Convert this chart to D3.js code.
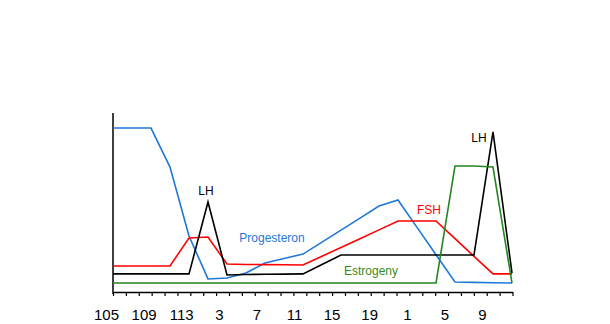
<!DOCTYPE html>
<html>
<head>
<meta charset="utf-8">
<script src="https://cdn.jsdelivr.net/npm/d3@7"></script>
<style>
  html, body { margin: 0; padding: 0; background: #fff; }
  svg { display: block; }
  text { font-family: "Liberation Sans", Arial, sans-serif; }
</style>
</head>
<body>
<svg id="chart" width="610" height="324"></svg>
<script>
// ---- data ----
const points = d3.range(22); // sample index along the cycle
const tickLabels = ["105", "109", "113", "3", "7", "11", "15", "19", "1", "5", "9"];
const tickCount = 31;

const progesteron = [91.6, 91.6, 91.6, 69.8, 31.3, 7.3, 7.8, 10.6, 16.2, 18.7, 21.2,
                     27.9, 34.6, 41.3, 48.0, 51.4, 36.1, 20.8, 5.6, 5.4, 5.2, 5.0];
const fsh = [14.5, 14.5, 14.5, 14.5, 30.2, 30.7, 15.6, 15.4, 15.3, 15.2, 15.1,
             20.0, 24.9, 29.8, 34.7, 39.7, 39.7, 39.7, 29.8, 19.9, 10.1, 10.1];
const lh = [10.1, 10.1, 10.1, 10.1, 10.1, 50.3, 9.5, 9.8, 9.9, 10.0, 10.1,
            15.4, 20.7, 20.7, 20.7, 20.7, 20.7, 20.7, 20.7, 20.7, 89.4, 10.6];
const estrogeny = [5.0, 5.0, 5.0, 5.0, 5.0, 5.0, 5.0, 5.0, 5.0, 5.0, 5.0,
                   5.0, 5.0, 5.0, 5.0, 5.0, 5.0, 5.0, 70.4, 70.4, 69.8, 5.0];

const series = [
  { name: "Progesteron", values: progesteron, color: "#1f78d6" },
  { name: "FSH", values: fsh, color: "#ff0000" },
  { name: "LH", values: lh, color: "#000000" },
  { name: "Estrogeny", values: estrogeny, color: "#24851f" }
];

// ---- layout ----
const svg = d3.select("#chart");
const plotLeft = 113, plotRight = 512, plotTop = 113, plotBottom = 292;

const x = d3.scaleLinear().domain([0, points.length - 1]).range([plotLeft, plotRight]);
const y = d3.scaleLinear().domain([0, 100]).range([plotBottom, plotTop]);
const xTick = d3.scaleLinear().domain([0, tickCount]).range([plotLeft, plotRight + 0.5]);
const xLabel = d3.scalePoint().domain(tickLabels).range([106, 482]);

// axes
svg.append("line")
  .attr("x1", plotLeft).attr("x2", plotLeft)
  .attr("y1", plotTop).attr("y2", plotBottom + 2)
  .attr("stroke", "#000").attr("stroke-width", 1.5);

const xAxis = d3.axisBottom(xTick)
  .tickValues(d3.range(tickCount + 1))
  .tickSize(4)
  .tickSizeOuter(0)
  .tickFormat("");
const gx = svg.append("g").attr("transform", `translate(0,${plotBottom})`).call(xAxis);
gx.select(".domain").attr("stroke", "#000").attr("stroke-width", 1.5);
gx.selectAll(".tick line").attr("stroke", "#000").attr("stroke-width", 1.2);

const labelAxis = d3.axisBottom(xLabel).tickSize(0).tickPadding(0);
const gl = svg.append("g").attr("transform", `translate(0,${plotBottom})`).call(labelAxis);
gl.select(".domain").remove();
gl.selectAll("text")
  .attr("y", 28)
  .attr("dy", 0)
  .attr("fill", "#000")
  .style("font-size", "15px")
  .style("font-family", "'Liberation Sans', Arial, sans-serif");

// lines
const line = d3.line()
  .x((d, i) => x(points[i]))
  .y(d => y(d));

svg.append("g").selectAll("path")
  .data(series)
  .join("path")
  .attr("d", d => line(d.values))
  .attr("fill", "none")
  .attr("stroke", d => d.color)
  .attr("stroke-width", 1.6)
  .attr("stroke-linejoin", "miter");

// annotations
const notes = [
  { text: "LH", x: 206, y: 195, color: "#000000" },
  { text: "LH", x: 479, y: 142, color: "#000000" },
  { text: "FSH", x: 429, y: 214, color: "#ff0000" },
  { text: "Progesteron", x: 272, y: 242, color: "#1f78d6" },
  { text: "Estrogeny", x: 371, y: 275, color: "#3a8a1a" }
];
svg.append("g").selectAll("text")
  .data(notes)
  .join("text")
  .attr("x", d => d.x)
  .attr("y", d => d.y)
  .attr("text-anchor", "middle")
  .attr("fill", d => d.color)
  .style("font-size", "12px")
  .text(d => d.text);
</script>
</body>
</html>
